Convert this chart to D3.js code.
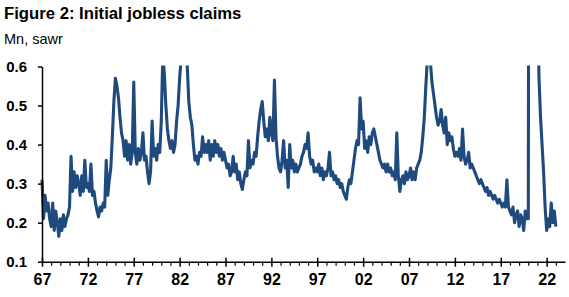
<!DOCTYPE html>
<html>
<head>
<meta charset="utf-8">
<script src="https://cdn.jsdelivr.net/npm/d3@7"></script>
<style>
  html, body { margin: 0; padding: 0; background: #fff; }
  svg { display: block; }
</style>
</head>
<body>
<script>
// initial jobless claims, Mn, sawr, 6 readings per year from Jan 1967
const startYear = 1967;
const perYear = 6;
const claims = [
  0.31, 0.21, 0.27, 0.23, 0.25, 0.21,   // 1967
  0.19, 0.25, 0.18, 0.23, 0.20, 0.165,  // 1968
  0.21, 0.18, 0.22, 0.19, 0.21, 0.22,   // 1969
  0.24, 0.37, 0.28, 0.33, 0.29, 0.32,   // 1970
  0.30, 0.27, 0.32, 0.28, 0.36, 0.29,   // 1971
  0.30, 0.28, 0.35, 0.27, 0.28, 0.25,   // 1972
  0.23, 0.215, 0.24, 0.23, 0.25, 0.24,  // 1973
  0.36, 0.27, 0.31, 0.34, 0.42, 0.51,   // 1974
  0.57, 0.55, 0.52, 0.47, 0.43, 0.41,   // 1975
  0.37, 0.41, 0.36, 0.40, 0.35, 0.38,   // 1976
  0.56, 0.38, 0.35, 0.39, 0.36, 0.38,   // 1977
  0.43, 0.36, 0.37, 0.33, 0.30, 0.33,   // 1978
  0.46, 0.37, 0.39, 0.36, 0.40, 0.38,   // 1979
  0.46, 0.63, 0.58, 0.50, 0.44, 0.41,   // 1980
  0.39, 0.41, 0.38, 0.40, 0.46, 0.50,   // 1981
  0.57, 0.62, 0.64, 0.63, 0.66, 0.60,   // 1982
  0.51, 0.47, 0.45, 0.40, 0.36, 0.37,   // 1983
  0.35, 0.38, 0.37, 0.42, 0.38, 0.40,   // 1984
  0.38, 0.41, 0.36, 0.40, 0.37, 0.41,   // 1985
  0.38, 0.40, 0.37, 0.39, 0.36, 0.38,   // 1986
  0.36, 0.34, 0.35, 0.32, 0.33, 0.37,   // 1987
  0.33, 0.35, 0.31, 0.33, 0.30, 0.285,  // 1988
  0.31, 0.33, 0.32, 0.41, 0.34, 0.36,   // 1989
  0.35, 0.38, 0.37, 0.42, 0.46, 0.49,   // 1990
  0.51, 0.46, 0.42, 0.44, 0.41, 0.47,   // 1991
  0.43, 0.41, 0.565, 0.42, 0.37, 0.34,  // 1992
  0.33, 0.36, 0.41, 0.34, 0.36, 0.29,   // 1993
  0.40, 0.34, 0.36, 0.33, 0.35, 0.33,   // 1994
  0.34, 0.35, 0.37, 0.38, 0.40, 0.39,   // 1995
  0.43, 0.37, 0.35, 0.36, 0.33, 0.34,   // 1996
  0.33, 0.35, 0.32, 0.34, 0.31, 0.33,   // 1997
  0.32, 0.34, 0.38, 0.32, 0.33, 0.31,   // 1998
  0.32, 0.30, 0.31, 0.29, 0.30, 0.28,   // 1999
  0.27, 0.26, 0.29, 0.31, 0.30, 0.33,   // 2000
  0.36, 0.39, 0.41, 0.40, 0.52, 0.44,   // 2001
  0.46, 0.39, 0.41, 0.38, 0.42, 0.40,   // 2002
  0.43, 0.44, 0.42, 0.40, 0.38, 0.36,   // 2003
  0.35, 0.34, 0.35, 0.33, 0.35, 0.33,   // 2004
  0.34, 0.32, 0.33, 0.31, 0.43, 0.32,   // 2005
  0.28, 0.31, 0.32, 0.30, 0.33, 0.31,   // 2006
  0.32, 0.34, 0.31, 0.33, 0.31, 0.34,   // 2007
  0.35, 0.36, 0.38, 0.42, 0.47, 0.55,   // 2008
  0.62, 0.66, 0.61, 0.56, 0.53, 0.50,   // 2009
  0.47, 0.45, 0.46, 0.49, 0.45, 0.43,   // 2010
  0.47, 0.40, 0.43, 0.41, 0.42, 0.39,   // 2011
  0.37, 0.38, 0.37, 0.39, 0.36, 0.44,   // 2012
  0.37, 0.35, 0.36, 0.38, 0.34, 0.35,   // 2013
  0.34, 0.33, 0.32, 0.31, 0.30, 0.31,   // 2014
  0.30, 0.29, 0.28, 0.29, 0.27, 0.28,   // 2015
  0.27, 0.26, 0.27, 0.26, 0.25, 0.26,   // 2016
  0.25, 0.24, 0.25, 0.24, 0.31, 0.24,   // 2017
  0.23, 0.22, 0.24, 0.20, 0.22, 0.23,   // 2018
  0.19, 0.22, 0.21, 0.18, 0.23, 0.21,   // 2019
  0.21, 3.00, 2.00, 1.30, 0.90, 0.80,   // 2020
  0.80, 0.57, 0.47, 0.40, 0.33, 0.24,   // 2021
  0.18, 0.21, 0.19, 0.25, 0.20, 0.23,   // 2022
  0.19                                  // 2023
];

const yTicks = [0.1, 0.2, 0.3, 0.4, 0.5, 0.6];
const xTickYears = [1967, 1972, 1977, 1982, 1987, 1992, 1997, 2002, 2007, 2012, 2017, 2022];
const xTickLabels = ["67", "72", "77", "82", "87", "92", "97", "02", "07", "12", "17", "22"];
const minorYears = d3.range(1968, 2024).filter(yr => !xTickYears.includes(yr));

const width = 569, height = 297;
const lineColor = "#1f4a7e";

const x = d3.scaleLinear().domain([1967, 2024]).range([42, 565]);
const y = d3.scaleLinear().domain([0.1, 0.6]).range([261.7, 66.5]);

const svg = d3.select("body").append("svg")
  .attr("width", width)
  .attr("height", height)
  .attr("viewBox", [0, 0, width, height]);

// titles
svg.append("text")
  .attr("x", 4).attr("y", 18.5)
  .attr("font-family", "'Liberation Sans', Arial, sans-serif")
  .attr("font-weight", "bold").attr("font-size", "16.7px")
  .attr("fill", "#000")
  .text("Figure 2: Initial jobless claims");

svg.append("text")
  .attr("x", 4).attr("y", 44)
  .attr("font-family", "'Liberation Sans', Arial, sans-serif")
  .attr("font-size", "14.5px")
  .attr("fill", "#000")
  .text("Mn, sawr");

// the series, clipped at the top of the axis
svg.append("clipPath").attr("id", "plot-clip")
  .append("rect")
  .attr("x", 40).attr("y", y(0.6) - 1)
  .attr("width", 530).attr("height", 200);

const points = claims.map((v, i) => ({ t: startYear + i / perYear, v }));

svg.append("path")
  .datum(points)
  .attr("clip-path", "url(#plot-clip)")
  .attr("fill", "none")
  .attr("stroke", lineColor)
  .attr("stroke-width", 3.1)
  .attr("stroke-linejoin", "round")
  .attr("d", d3.line().x(d => x(d.t)).y(d => y(d.v)));

// y axis
const yAxis = svg.append("g")
  .attr("transform", `translate(${x(1967)},0)`)
  .call(d3.axisLeft(y).tickValues(yTicks).tickFormat(d3.format(".1f"))
    .tickSize(4).tickSizeOuter(0).tickPadding(11));
yAxis.select(".domain").attr("stroke", "#000").attr("stroke-width", 1.5);
yAxis.selectAll(".tick line").attr("stroke", "#000").attr("stroke-width", 1.5);
yAxis.selectAll("text")
  .attr("font-family", "'Liberation Sans', Arial, sans-serif")
  .attr("font-weight", "bold").attr("font-size", "15px")
  .attr("fill", "#000");

// x axis: minor yearly ticks below, major ticks crossing the line
const xMinor = svg.append("g")
  .attr("transform", `translate(0,${y(0.1)})`)
  .call(d3.axisBottom(x).tickValues(minorYears).tickFormat("").tickSize(4).tickSizeOuter(0));
xMinor.select(".domain").attr("stroke", "#000").attr("stroke-width", 1.5);
xMinor.selectAll(".tick line").attr("stroke", "#000").attr("stroke-width", 1.2);

const xMajor = svg.append("g")
  .attr("transform", `translate(0,${y(0.1)})`)
  .call(d3.axisBottom(x).tickValues(xTickYears)
    .tickFormat((d, i) => xTickLabels[i]).tickSize(5).tickSizeOuter(0));
xMajor.select(".domain").remove();
xMajor.selectAll(".tick line").attr("y1", -4).attr("stroke", "#000").attr("stroke-width", 1.5);
xMajor.selectAll("text")
  .attr("y", 23).attr("dy", null)
  .attr("font-family", "'Liberation Sans Narrow', 'Arial Narrow', 'Liberation Sans', sans-serif")
  .attr("font-weight", "bold").attr("font-size", "16px")
  .attr("fill", "#000");
</script>
</body>
</html>
